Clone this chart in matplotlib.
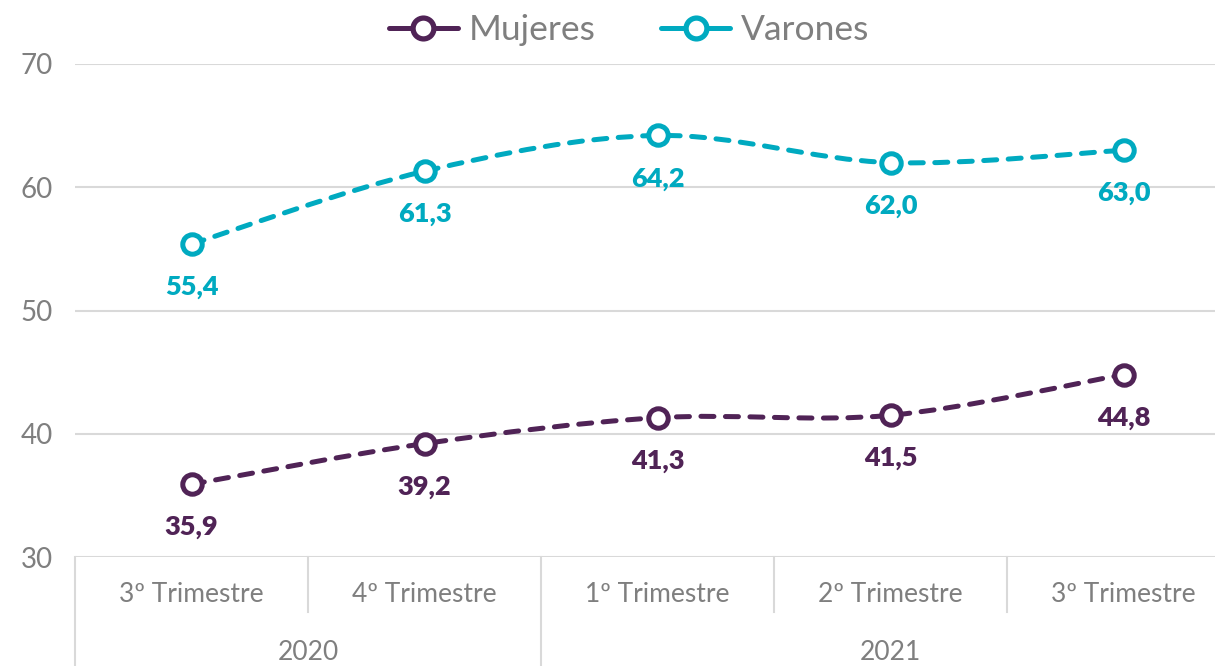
import matplotlib
matplotlib.use("Agg")
import matplotlib.pyplot as plt
from matplotlib.path import Path
from matplotlib.patches import PathPatch
from matplotlib.lines import Line2D
import matplotlib.transforms as mtransforms

quarters = ["3º Trimestre", "4º Trimestre", "1º Trimestre", "2º Trimestre", "3º Trimestre"]
years = ["2020", "2021"]
year_spans = [(0, 1), (2, 4)]
mujeres = [35.9, 39.2, 41.3, 41.5, 44.8]
varones = [55.4, 61.3, 64.2, 62.0, 63.0]
series_names = ["Mujeres", "Varones"]
yticks = [30, 40, 50, 60, 70]

C_MUJ = "#502356"
C_VAR = "#00AAC0"
GREY = "#7F7F7F"
GRID = "#D9D9D9"
FONT = "Lato"

plt.rcParams["font.family"] = [FONT, "DejaVu Sans"]

W, H = 1215, 666
fig = plt.figure(figsize=(W / 100, H / 100), dpi=100)
ax = fig.add_axes([75 / W, 1 - 557 / H, (1240 - 75) / W, (557 - 64) / H])
ax.set_xlim(-0.5, len(quarters) - 0.5)
ax.set_ylim(30, 70)
for s in ax.spines.values():
    s.set_visible(False)
ax.set_xticks([])
ax.set_yticks(yticks)
ax.set_yticklabels([str(t) for t in yticks], color=GREY, fontsize=20)
ax.tick_params(axis="y", length=0, pad=16)
for t in yticks:
    ax.axhline(t, color=GRID, lw=1.5, zorder=0)


def smooth_path(xs, ys):
    pts = list(zip(xs, ys))
    n = len(pts)
    verts = [pts[0]]
    codes = [Path.MOVETO]
    for i in range(n - 1):
        p0 = pts[i - 1] if i > 0 else pts[i]
        p1 = pts[i]
        p2 = pts[i + 1]
        p3 = pts[i + 2] if i + 2 < n else pts[i + 1]
        c1 = (p1[0] + (p2[0] - p0[0]) / 6, p1[1] + (p2[1] - p0[1]) / 6)
        c2 = (p2[0] - (p3[0] - p1[0]) / 6, p2[1] - (p3[1] - p1[1]) / 6)
        verts += [c1, c2, p2]
        codes += [Path.CURVE4] * 3
    return Path(verts, codes)


xs = list(range(len(quarters)))
LW = 3.6
for vals, col in [(mujeres, C_MUJ), (varones, C_VAR)]:
    patch = PathPatch(smooth_path(xs, vals), facecolor="none", edgecolor=col,
                      lw=LW, linestyle=(0, (2.6, 2.3)), capstyle="round", zorder=2)
    ax.add_patch(patch)
    ax.plot(xs, vals, linestyle="none", marker="o", markersize=14, mew=3.6,
            mec=col, mfc="white", zorder=3, clip_on=False)
    for x, v in zip(xs, vals):
        ax.annotate(f"{v:.1f}".replace(".", ","), (x, v), xytext=(0, -31),
                    textcoords="offset points", ha="center", va="center",
                    color=col, fontsize=19.5, fontweight="heavy", zorder=4)

# category axis
trans = mtransforms.blended_transform_factory(ax.transData, fig.transFigure)
y0 = 1 - 557 / H
y_short = 1 - 612 / H
y_bot = 0
lines = [(-0.5, y_bot)]
for b in [0.5, 2.5, 3.5]:
    lines.append((b, y_short))
lines.append((1.5, y_bot))
for xb, yb in lines:
    fig.add_artist(Line2D([xb, xb], [y0, yb], transform=trans, color=GRID, lw=1.5))
for x, q in zip(xs, quarters):
    fig.text(x, 1 - 595 / H, q, transform=trans, ha="center", va="center",
             color=GREY, fontsize=19)
for (a, b), yname in zip(year_spans, years):
    fig.text((a + b) / 2, 1 - 652 / H, yname, transform=trans, ha="center",
             va="center", color=GREY, fontsize=19)

handles = [Line2D([], [], color=c, lw=LW, marker="o", markersize=15, mew=3.8,
                  mfc="white", mec=c, solid_capstyle="round")
           for c in (C_MUJ, C_VAR)]
leg = fig.legend(handles, series_names, loc="center", bbox_to_anchor=(629 / W, 1 - 30 / H),
                 ncol=2, frameon=False, fontsize=25.5, handlelength=1.95,
                 columnspacing=1.85, handletextpad=0.3, labelcolor=GREY)

fig.savefig("out.png", dpi=100)
